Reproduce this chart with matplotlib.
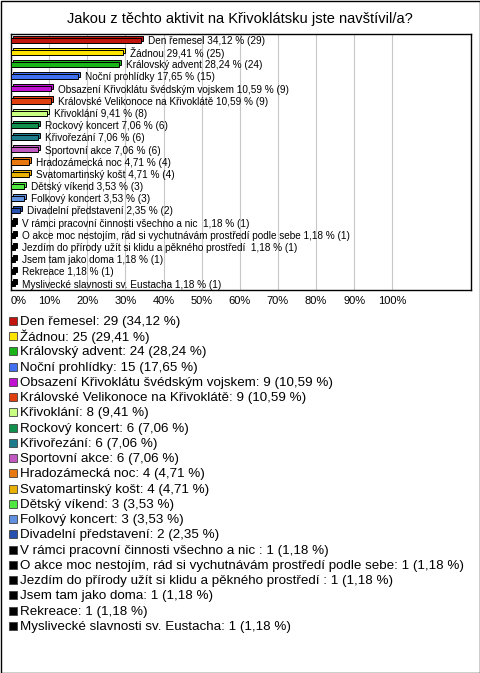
import matplotlib.pyplot as plt
import matplotlib.transforms as mtransforms
from matplotlib.patches import Rectangle

plt.rcParams['font.family'] = ['Liberation Sans', 'DejaVu Sans']

title = "Jakou z těchto aktivit na Křivoklátsku jste navštívil/a?"

names = [
    "Den řemesel", "Žádnou", "Královský advent", "Noční prohlídky",
    "Obsazení Křivoklátu švédským vojskem", "Královské Velikonoce na Křivoklátě",
    "Křivoklání", "Rockový koncert", "Křivořezání", "Sportovní akce",
    "Hradozámecká noc", "Svatomartinský košt", "Dětský víkend",
    "Folkový koncert", "Divadelní představení",
    "V rámci pracovní činnosti všechno a nic ",
    "O akce moc nestojím, rád si vychutnávám prostředí podle sebe",
    "Jezdím do přírody užít si klidu a pěkného prostředí ",
    "Jsem tam jako doma", "Rekreace", "Myslivecké slavnosti sv. Eustacha",
]
counts = [29, 25, 24, 15, 9, 9, 8, 6, 6, 6, 4, 4, 3, 3, 2, 1, 1, 1, 1, 1, 1]
percents = [34.12, 29.41, 28.24, 17.65, 10.59, 10.59, 9.41, 7.06, 7.06, 7.06,
            4.71, 4.71, 3.53, 3.53, 2.35, 1.18, 1.18, 1.18, 1.18, 1.18, 1.18]
colors = [
    "#c0140c", "#ffe400", "#18b418", "#4070f0", "#c010d0", "#e04010",
    "#c8ff80", "#10904c", "#1c7c8c", "#c058c0", "#e87810", "#e8b000",
    "#50e840", "#6090e0", "#2850b0",
    "#000000", "#000000", "#000000", "#000000", "#000000", "#000000",
]
xticks = [0, 10, 20, 30, 40, 50, 60, 70, 80, 90, 100]


def fmt(v):
    return f"{v:.2f}".replace(".", ",")


W, H = 480, 673
fig = plt.figure(figsize=(W / 100, H / 100), dpi=100)

# outer frame
fig.patches.append(Rectangle((0.5 / W, 0.5 / H), 1 - 1 / W, 1 - 1 / H,
                             transform=fig.transFigure, fill=False,
                             edgecolor="black", linewidth=1))

fig.text(0.5, 1 - 19 / H, title, ha="center", va="center", fontsize=10.5)

ax = fig.add_axes([11 / W, 1 - 290 / H, 459.5 / W, 256 / H])
n = len(names)
ypos = list(range(n))

ax.set_xlim(0, 120.5)
ax.set_ylim(n - 0.5, -0.5)
for x in xticks[1:]:
    ax.axvline(x, color="#c8c8c8", linewidth=0.8, zorder=0)

# pseudo 3D: back face shifted up-right, front face on top
back = mtransforms.offset_copy(ax.transData, fig=fig, x=2, y=2, units="dots")
ax.barh(ypos, percents, height=0.42, color=colors, edgecolor="black",
        linewidth=0.7, transform=back, zorder=2)
ax.barh(ypos, percents, height=0.42, color=colors, edgecolor="black",
        linewidth=0.7, zorder=3)

for y, name, p, c in zip(ypos, names, percents, counts):
    ax.annotate(f"{name} {fmt(p)} % ({c})", (p, y), xytext=(5, -0.5),
                textcoords="offset points", va="center", ha="left",
                fontsize=7.2, zorder=4)

ax.set_xticks(xticks)
ax.set_xticklabels([f"{x}%" for x in xticks], fontsize=8)
ax.get_xticklabels()[0].set_horizontalalignment("left")
ax.tick_params(axis="x", length=0, pad=4)
ax.set_yticks([])
for s in ax.spines.values():
    s.set_linewidth(1)

# legend list under the chart
y0 = 322
step = 15.24
for i, (name, p, c, col) in enumerate(zip(names, percents, counts, colors)):
    yy = 1 - (y0 + i * step) / H
    fig.patches.append(Rectangle((9 / W, yy - 3 / H), 8 / W, 8 / H,
                                 transform=fig.transFigure, facecolor=col,
                                 edgecolor="#404040", linewidth=0.6))
    fig.text(20 / W, yy, f"{name}: {c} ({fmt(p)} %)", ha="left", va="center",
             fontsize=9.6)

fig.savefig("out.png", dpi=100)
